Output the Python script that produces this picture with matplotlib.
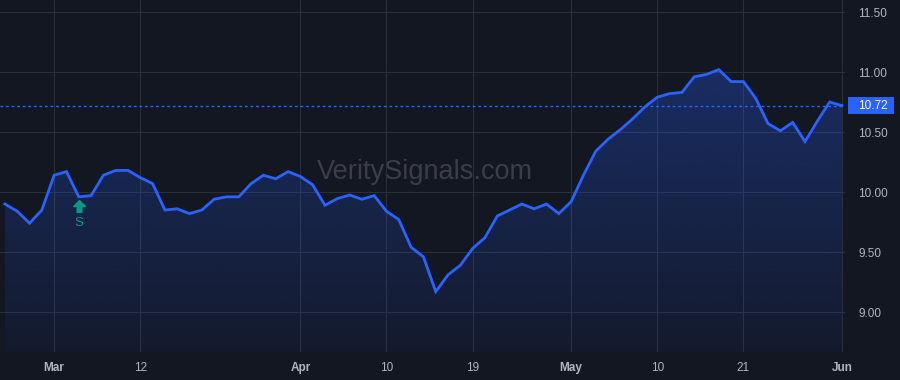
import matplotlib
matplotlib.use("Agg")
import matplotlib.pyplot as plt
import matplotlib.transforms as mtransforms
from matplotlib.patches import Polygon, Rectangle
from matplotlib.path import Path
from matplotlib.colors import to_rgb
import numpy as np
import pandas as pd

# trading days, Feb 26 - Jun 3 2024 (Good Friday and Memorial Day closed)
dates = pd.bdate_range("2024-02-26", "2024-06-03")
dates = dates[~dates.isin(pd.to_datetime(["2024-03-29", "2024-05-27"]))]

prices = [
    9.90, 9.84, 9.74, 9.85, 10.14, 10.17, 9.96, 9.97, 10.14, 10.18,
    10.18, 10.12, 10.07, 9.85, 9.86, 9.82, 9.85, 9.94, 9.96, 9.96,
    10.07, 10.14, 10.11, 10.17, 10.13, 10.06, 9.89, 9.945, 9.975, 9.94,
    9.97, 9.84, 9.77, 9.54, 9.46, 9.17, 9.31, 9.39, 9.53, 9.62,
    9.80, 9.85, 9.90, 9.86, 9.90, 9.82, 9.92, 10.14, 10.34, 10.44,
    10.52, 10.61, 10.71, 10.79, 10.82, 10.83, 10.96, 10.98, 11.02, 10.92,
    10.92, 10.78, 10.57, 10.51, 10.58, 10.42, 10.59, 10.75, 10.72,
]

tick_dates = ["2024-03-01", "2024-03-12", "2024-04-01", "2024-04-10", "2024-04-19",
              "2024-05-01", "2024-05-10", "2024-05-21", "2024-06-03"]
tick_labels = ["Mar", "12", "Apr", "10", "19", "May", "10", "21", "Jun"]
month_labels = {"Mar", "Apr", "May", "Jun"}

y_ticks = [9.0, 9.5, 10.0, 10.5, 11.0, 11.5]
last_price = 10.72
signal_date = "2024-03-05"
signal_text = "S"
watermark = "VeritySignals.com"

BG = "#131722"
GRID = "#2a2e39"
BLUE = "#2962FF"
TEXT = "#b2b5be"
TEAL = "#089981"

plt.rcParams["font.family"] = ["Liberation Sans", "DejaVu Sans"]

fig = plt.figure(figsize=(9, 3.8), dpi=100, facecolor=BG)
ax = fig.add_axes([0, 28 / 380, 845 / 900, 352 / 380])
ax.set_facecolor(BG)

x = np.arange(len(prices))
y = np.array(prices)
ymin, ymax = 8.667, 11.6
ax.set_xlim(-0.4, len(prices) - 1 + 0.25)
ax.set_ylim(ymin, ymax)

# gradient area under the line
r, g, b = to_rgb(BLUE)
alpha = np.linspace(0.30, 0.05, 256)
img = np.zeros((256, 1, 4))
img[..., 0], img[..., 1], img[..., 2] = r, g, b
img[:, 0, 3] = alpha
verts = list(zip(x, y)) + [(x[-1], ymin), (x[0], ymin)]
poly = Polygon(verts, closed=True, facecolor="none", edgecolor="none")
ax.add_patch(poly)
im = ax.imshow(img, extent=[x[0], x[-1], ymin, y.max()], aspect="auto",
               origin="upper", zorder=1)
im.set_clip_path(poly)

ax.plot(x, y, color=BLUE, lw=2, zorder=3, solid_joinstyle="miter")

# last price line and label
ax.axhline(last_price, color=BLUE, lw=1, ls=(0, (2, 2)), zorder=2)
trans = mtransforms.blended_transform_factory(ax.transAxes, ax.transData)
box_h = 16.5 / 120
ax.add_patch(Rectangle((1.0035, last_price - box_h / 2), 46 / 845, box_h,
                       transform=trans, clip_on=False, facecolor=BLUE,
                       edgecolor="none", zorder=5))
ax.text(1.016, last_price, f"{last_price:.2f}", transform=trans, color="white",
        fontsize=8.5, ha="left", va="center", zorder=6)

# watermark
ax.text(0.503, 0.511, watermark, transform=ax.transAxes, color="#3b3e48",
        fontsize=19.5, ha="center", va="center", zorder=0.5)

# signal marker: filled up arrow below the bar, then the letter
arrow = Path([(-0.5, 0.0), (0.0, 0.5), (0.5, 0.0), (0.2, 0.0), (0.2, -0.5),
              (-0.2, -0.5), (-0.2, 0.0), (-0.5, 0.0)],
             [Path.MOVETO] + [Path.LINETO] * 6 + [Path.CLOSEPOLY])
si = list(dates).index(pd.Timestamp(signal_date))
shift = mtransforms.ScaledTranslation(0, -6.8 / 72, fig.dpi_scale_trans)
ax.plot([si], [prices[si]], marker=arrow, markersize=8.5, color=TEAL, lw=0,
        transform=ax.transData + shift, zorder=6, clip_on=False)
ax.annotate(signal_text, (si, prices[si]), xytext=(0, -18.5), textcoords="offset points",
            ha="center", va="center", color=TEAL, fontsize=9.5, zorder=6)

# axes
tick_pos = [list(dates).index(pd.Timestamp(d)) for d in tick_dates]
ax.set_xticks(tick_pos)
ax.set_xticklabels(tick_labels)
for lbl in ax.get_xticklabels():
    if lbl.get_text() in month_labels:
        lbl.set_fontweight("bold")
ax.yaxis.tick_right()
ax.set_yticks(y_ticks)
ax.set_yticklabels([f"{v:.2f}" for v in y_ticks])
for lbl in ax.get_yticklabels():
    lbl.set_horizontalalignment("left")
ax.tick_params(axis="x", length=0, pad=7, colors=TEXT, labelsize=8.5)
ax.tick_params(axis="y", length=0, pad=9.5, colors=TEXT, labelsize=8.5)
ax.grid(True, color=GRID, lw=0.8)
ax.set_axisbelow(True)
for s in ax.spines.values():
    s.set_visible(False)

fig.savefig("out.png", dpi=100, facecolor=BG)
